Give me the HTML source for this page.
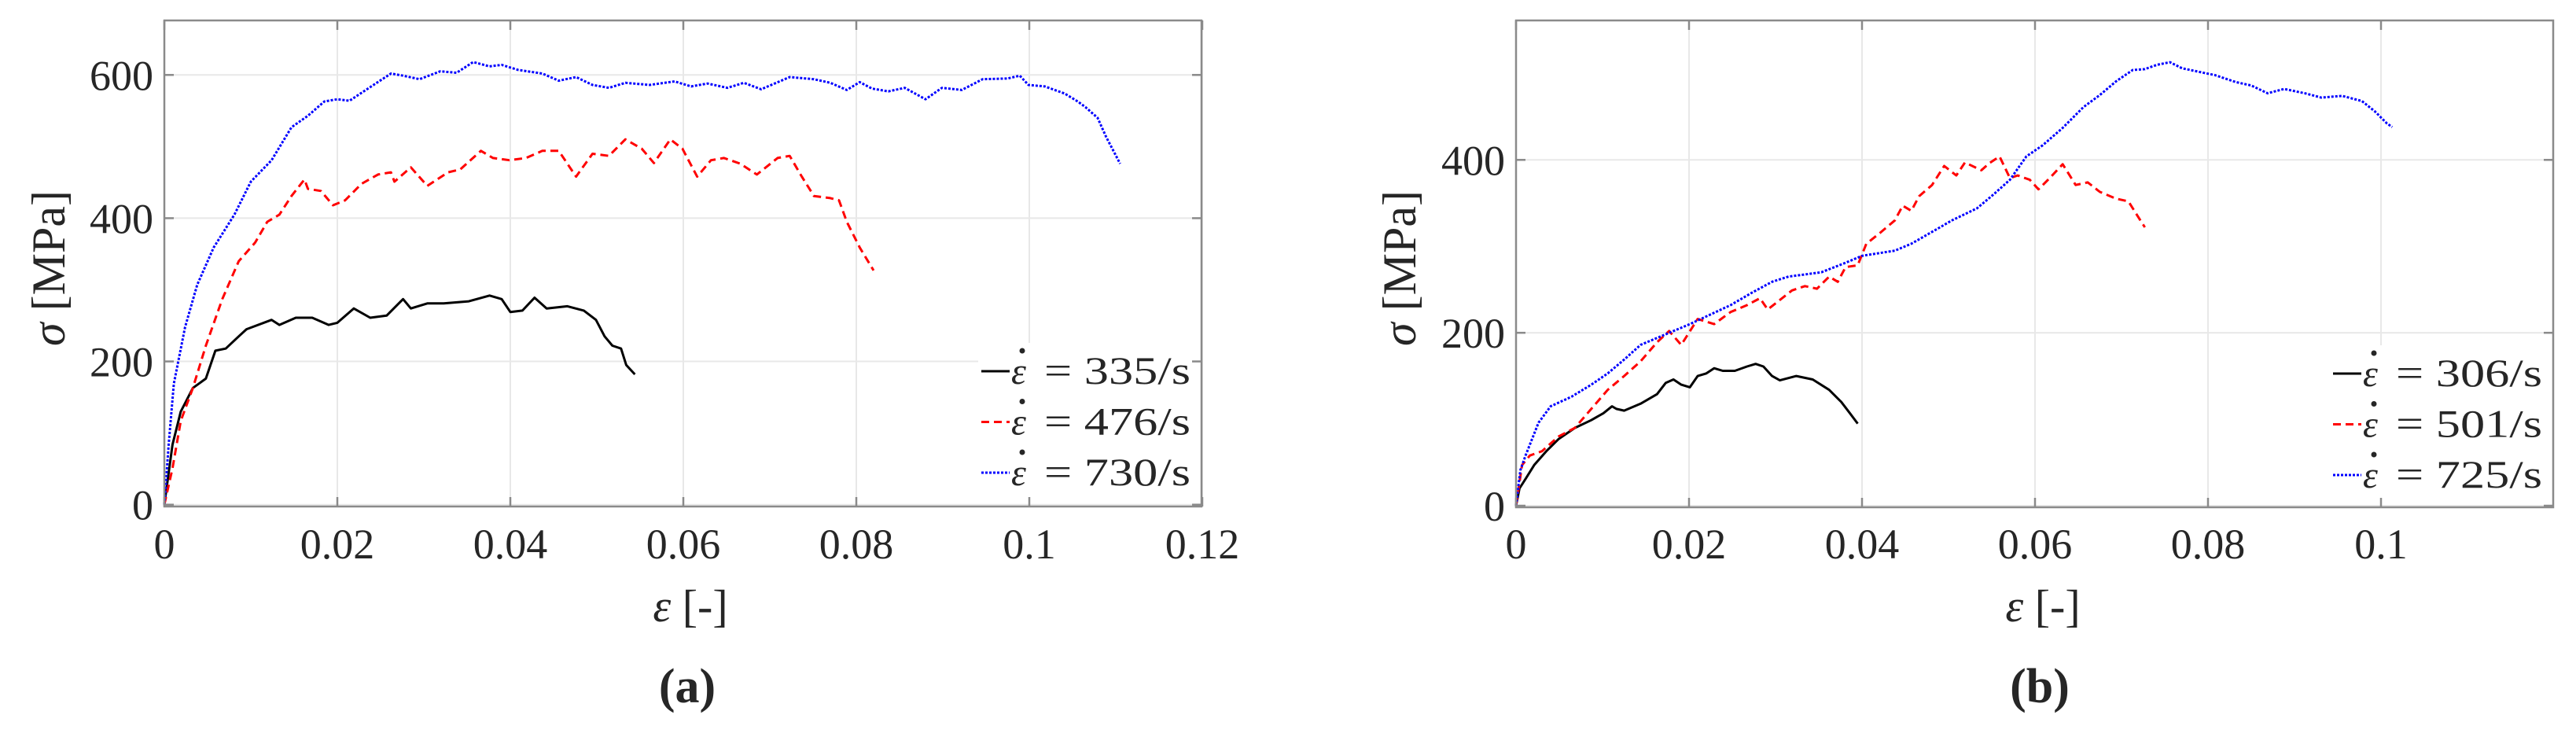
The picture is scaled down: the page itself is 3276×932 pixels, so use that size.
<!DOCTYPE html>
<html><head><meta charset="utf-8"><style>
html,body{margin:0;padding:0;background:#fff;}
svg{display:block;}
text{font-family:"Liberation Serif",serif;fill:#262626;}
</style></head><body>
<svg id="fig" width="3276" height="932" viewBox="0 0 3276 932" xmlns="http://www.w3.org/2000/svg"></svg>
<script>
// ---------- Panel (a) data ----------
const aBlackX=[0,0.00095,0.0019,0.0033,0.0048,0.0059,0.0071,0.0086,0.0095,0.0124,0.0133,0.0152,0.0171,0.019,0.02,0.0219,0.0238,0.0257,0.0276,0.0285,0.0304,0.0323,0.0352,0.0376,0.039,0.04,0.0414,0.0428,0.0442,0.0466,0.0485,0.0499,0.0509,0.0518,0.0528,0.0534,0.0544];
const aBlackY=[0,84,130,163,176,215,218,235,245,258,251,261,261,251,254,274,261,264,287,274,281,281,284,292,287,269,271,289,274,277,271,258,235,222,218,195,182];
const aRedX=[0,0.00095,0.0019,0.0033,0.0048,0.0067,0.0086,0.0105,0.0119,0.0133,0.0147,0.0162,0.0166,0.0181,0.0195,0.0209,0.0228,0.0247,0.0262,0.0266,0.0285,0.0304,0.0328,0.0342,0.0366,0.038,0.0399,0.0418,0.0437,0.0456,0.0476,0.0495,0.0514,0.0533,0.0552,0.0566,0.0585,0.0599,0.0616,0.0632,0.0647,0.0666,0.0685,0.0709,0.0723,0.0737,0.0751,0.077,0.078,0.0789,0.0804,0.082];
const aRedY=[0,51,117,163,222,287,340,366,395,405,431,454,441,438,418,425,448,461,464,451,471,445,464,468,494,484,481,484,494,494,458,490,487,510,497,477,510,497,458,481,484,476,461,484,487,458,431,428,425,395,359,327];
const aBlueX=[0,0.0005,0.0011,0.0024,0.0038,0.0057,0.0081,0.01,0.0124,0.0147,0.0166,0.0185,0.02,0.0214,0.0233,0.0262,0.0276,0.0295,0.0319,0.0338,0.0357,0.0376,0.039,0.0409,0.0437,0.0456,0.0476,0.0495,0.0514,0.0533,0.0561,0.059,0.0609,0.0628,0.0651,0.067,0.069,0.0723,0.0751,0.077,0.0789,0.0804,0.0818,0.0837,0.0856,0.088,0.0899,0.0922,0.0946,0.0975,0.0989,0.0999,0.1018,0.1041,0.1056,0.1065,0.1079,0.1089,0.1096,0.1105];
const aBlueY=[0,84,169,248,307,359,405,451,481,527,543,563,566,564,579,602,599,594,605,603,618,612,614,607,602,592,597,586,582,589,586,591,584,588,582,589,580,597,594,589,579,590,581,577,582,566,582,579,594,595,599,586,584,574,563,555,540,513,497,476];
const aXTicks=[0,0.02,0.04,0.06,0.08,0.1,0.12];
const aXTickLabels=["0","0.02","0.04","0.06","0.08","0.1","0.12"];
const aYTicks=[0,200,400,600];
const aLegend=["335","476","730"];
// ---------- Panel (b) data ----------
const bBlackX=[0,0.0004,0.0011,0.0021,0.0035,0.0049,0.0068,0.0087,0.0101,0.0111,0.0116,0.0125,0.0144,0.0163,0.0173,0.0182,0.0191,0.0201,0.021,0.022,0.0229,0.0239,0.0253,0.0267,0.0277,0.0286,0.0296,0.0305,0.0324,0.0343,0.0362,0.0376,0.0386,0.0395];
const bBlackY=[0,20,31,47,63,77,90,99,107,115,112,110,118,129,142,146,140,137,150,153,159,156,156,161,164,161,150,145,150,146,134,120,107,95];
const bRedX=[0,0.0007,0.0016,0.003,0.0049,0.0068,0.0087,0.0106,0.0125,0.0144,0.0163,0.0177,0.0191,0.021,0.0229,0.0248,0.0267,0.0282,0.0291,0.0305,0.0319,0.0334,0.0348,0.0362,0.0372,0.0381,0.0395,0.0405,0.0419,0.0438,0.0447,0.0457,0.0466,0.0481,0.0495,0.0509,0.0519,0.0538,0.0547,0.0559,0.0571,0.058,0.0594,0.0604,0.0618,0.0632,0.0647,0.0661,0.0675,0.0694,0.0708,0.0718,0.0727];
const bRedY=[0,47,58,63,80,90,112,134,150,167,189,202,186,216,210,224,232,240,227,238,249,254,251,265,259,276,278,303,314,330,347,341,358,371,393,382,397,388,396,404,379,382,377,366,380,395,371,374,363,355,352,336,322];
const bBlueX=[0,0.0005,0.0011,0.0026,0.004,0.0064,0.0087,0.0106,0.0125,0.0144,0.0163,0.0182,0.0201,0.022,0.0248,0.0272,0.0296,0.0315,0.0353,0.0381,0.04,0.0419,0.0438,0.0457,0.0485,0.0504,0.0533,0.0552,0.0571,0.059,0.0609,0.0632,0.0656,0.0675,0.0694,0.0713,0.0727,0.0741,0.0756,0.077,0.0789,0.0808,0.0832,0.085,0.0869,0.0888,0.0912,0.0931,0.0955,0.0978,0.0993,0.1007,0.1013];
const bBlueY=[0,41,58,96,115,126,140,153,169,186,194,202,210,219,232,246,259,265,270,281,289,292,295,303,319,330,344,360,377,404,417,437,461,475,491,504,505,510,513,506,502,498,490,486,477,482,477,472,474,468,456,442,438];
const bXTicks=[0,0.02,0.04,0.06,0.08,0.1];
const bXTickLabels=["0","0.02","0.04","0.06","0.08","0.1"];
const bYTicks=[0,200,400];
const bLegend=["306","501","725"];

const NS="http://www.w3.org/2000/svg";
const svg=document.getElementById('fig');
function mk(tag,attrs,parent){const e=document.createElementNS(NS,tag);for(const k in attrs)e.setAttribute(k,attrs[k]);(parent||svg).appendChild(e);return e;}

function panel(cfg){
  const g=mk('g',{});
  
  
  const xs=v=>cfg.left+(v-0)*cfg.xScale;
  const ys=v=>cfg.y0-v*cfg.yScale;
  cfg.xTicks.forEach(t=>{const l=mk('line',{x1:xs(t),x2:xs(t),y1:cfg.top,y2:cfg.bottom,stroke:'#e8e8e8','stroke-width':2},g);
    });
  cfg.yTicks.forEach(t=>{const l=mk('line',{x1:cfg.left,x2:cfg.right,y1:ys(t),y2:ys(t),stroke:'#e8e8e8','stroke-width':2},g);
    });
  cfg.series.forEach(s=>{
    const d=s.x.map((v,i)=>(i?'L':'M')+xs(v).toFixed(1)+' '+ys(s.y[i]).toFixed(1)).join(' ');
    const p=mk('path',{d:d,fill:'none',stroke:s.color,'stroke-width':3,'stroke-dasharray':s.dash,'stroke-linejoin':'round'},g);
    
    
  });
  const lg=mk('g',{},g);
  
  
  mk('rect',{x:cfg.legX-4,y:cfg.legY-36,width:cfg.right-cfg.legX+2,height:198,fill:'#fff'},lg);
  cfg.series.forEach((s,i)=>{
    const y=cfg.legY+i*64.5;
    const ln=mk('line',{x1:cfg.legX,x2:cfg.legX+36,y1:y,y2:y,stroke:s.color,'stroke-width':3,'stroke-dasharray':s.dash},lg);
    
    const e=mk('text',{x:cfg.legX+38,y:y+16,'font-size':48,'font-style':'italic'},lg);
    
    e.textContent='ε';
    mk('circle',{cx:cfg.legX+52,cy:y-26,r:3.5,fill:'#262626'},lg);
    const t=mk('text',{x:cfg.legX+80,y:y+16,'font-size':50,textLength:186,lengthAdjust:'spacingAndGlyphs'},lg);
    
    t.textContent='= '+cfg.legend[i]+'/s';
  });
  const bx=mk('rect',{x:cfg.left,y:cfg.top,width:cfg.right-cfg.left,height:cfg.bottom-cfg.top,fill:'none',stroke:'#8a8a8a','stroke-width':2.5},g);
  
  cfg.xTicks.forEach((t,i)=>{
    mk('line',{x1:xs(t),x2:xs(t),y1:cfg.bottom,y2:cfg.bottom-12,stroke:'#8a8a8a','stroke-width':2.5},g);
    mk('line',{x1:xs(t),x2:xs(t),y1:cfg.top,y2:cfg.top+12,stroke:'#8a8a8a','stroke-width':2.5},g);
    const tx=mk('text',{x:xs(t),y:710,'font-size':54,'text-anchor':'middle'},g);
    
    tx.textContent=cfg.xTickLabels[i];
  });
  cfg.yTicks.forEach(t=>{
    mk('line',{x1:cfg.left,x2:cfg.left+12,y1:ys(t),y2:ys(t),stroke:'#8a8a8a','stroke-width':2.5},g);
    mk('line',{x1:cfg.right,x2:cfg.right-12,y1:ys(t),y2:ys(t),stroke:'#8a8a8a','stroke-width':2.5},g);
    const ty=mk('text',{x:cfg.left-14,y:ys(t)+19,'font-size':54,'text-anchor':'end'},g);
    
    ty.textContent=String(t);
  });
  const yl=mk('text',{x:0,y:0,'font-size':60,'text-anchor':'middle',transform:'translate('+(cfg.yLabX)+',341) rotate(-90)'},g);
  
  yl.innerHTML='<tspan font-style="italic">σ</tspan> [MPa]';
  const xl=mk('text',{x:cfg.xLabX,y:790,'font-size':58,'text-anchor':'middle'},g);
  
  xl.innerHTML='<tspan font-style="italic">ε</tspan> [-]';
  const cap=mk('text',{x:cfg.xLabX-4,y:893,'font-size':62,'font-weight':'bold','text-anchor':'middle'},g);
  
  cap.textContent='('+cfg.id+')';
}

panel({id:'a',left:209,right:1528,top:26,bottom:644,y0:641.7,xScale:11000,yScale:0.9107,
  xTicks:aXTicks,xTickLabels:aXTickLabels,yTicks:aYTicks,legend:aLegend,legX:1248,legY:472,yLabX:82,xLabX:878,
  series:[{name:'series-335',x:aBlackX,y:aBlackY,color:'#000',dash:'none'},
          {name:'series-476',x:aRedX,y:aRedY,color:'#ff0000',dash:'10 6'},
          {name:'series-730',x:aBlueX,y:aBlueY,color:'#0000ff',dash:'3 2'}]});
panel({id:'b',left:1928,right:3247,top:26,bottom:645,y0:643,xScale:11000,yScale:1.0993,
  xTicks:bXTicks,xTickLabels:bXTickLabels,yTicks:bYTicks,legend:bLegend,legX:2967,legY:475,yLabX:1800,xLabX:2598,
  series:[{name:'series-306',x:bBlackX,y:bBlackY,color:'#000',dash:'none'},
          {name:'series-501',x:bRedX,y:bRedY,color:'#ff0000',dash:'10 6'},
          {name:'series-725',x:bBlueX,y:bBlueY,color:'#0000ff',dash:'3 2'}]});
</script>
</body></html>
